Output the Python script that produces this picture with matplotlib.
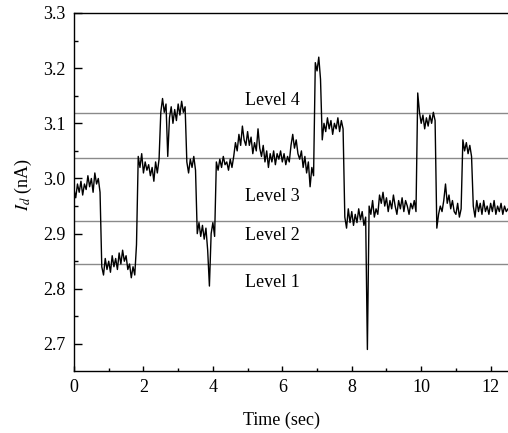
import numpy as np
import matplotlib
matplotlib.use("Agg")
import matplotlib.pyplot as plt
from matplotlib.ticker import MultipleLocator

t_step = 0.05
current = [
    # 0.00 - 0.95
    2.98, 2.965, 2.99, 2.975, 2.995, 2.97, 2.99, 2.98, 3.005, 2.985,
    3.00, 2.975, 3.01, 2.99, 3.00, 2.975, 2.84, 2.825, 2.855, 2.835,
    # 1.00 - 1.95
    2.85, 2.83, 2.86, 2.84, 2.855, 2.835, 2.865, 2.845, 2.87, 2.85,
    2.86, 2.835, 2.845, 2.82, 2.84, 2.825, 2.88, 3.04, 3.02, 3.045,
    # 2.00 - 2.95
    3.01, 3.03, 3.015, 3.025, 3.005, 3.02, 2.995, 3.03, 3.01, 3.035,
    3.12, 3.145, 3.12, 3.135, 3.04, 3.11, 3.13, 3.10, 3.125, 3.105,
    # 3.00 - 3.95
    3.135, 3.115, 3.14, 3.12, 3.13, 3.03, 3.01, 3.035, 3.02, 3.04,
    3.015, 2.90, 2.92, 2.895, 2.915, 2.89, 2.91, 2.87, 2.805, 2.90,
    # 4.00 - 4.95
    2.92, 2.895, 3.03, 3.015, 3.035, 3.02, 3.04, 3.025, 3.03, 3.015,
    3.035, 3.02, 3.04, 3.065, 3.05, 3.08, 3.06, 3.095, 3.07, 3.06,
    # 5.00 - 5.95
    3.085, 3.06, 3.075, 3.045, 3.065, 3.05, 3.09, 3.055, 3.04, 3.06,
    3.03, 3.05, 3.02, 3.045, 3.03, 3.05, 3.025, 3.045, 3.035, 3.05,
    # 6.00 - 6.95
    3.03, 3.045, 3.025, 3.04, 3.03, 3.06, 3.08, 3.055, 3.07, 3.045,
    3.035, 3.05, 3.02, 3.04, 3.01, 3.03, 2.985, 3.02, 3.005, 3.21,
    # 7.00 - 7.95
    3.195, 3.22, 3.18, 3.07, 3.10, 3.085, 3.11, 3.09, 3.105, 3.08,
    3.10, 3.09, 3.11, 3.085, 3.105, 3.09, 2.93, 2.91, 2.945, 2.92,
    # 8.00 - 8.95
    2.94, 2.915, 2.935, 2.92, 2.945, 2.925, 2.94, 2.915, 2.93, 2.69,
    2.95, 2.935, 2.96, 2.93, 2.945, 2.935, 2.97, 2.955, 2.975, 2.95,
    # 9.00 - 9.95
    2.965, 2.94, 2.96, 2.945, 2.97, 2.95, 2.935, 2.96, 2.945, 2.965,
    2.94, 2.96, 2.95, 2.935, 2.955, 2.945, 2.96, 2.94, 3.155, 3.12,
    # 10.00 - 10.95
    3.10, 3.115, 3.09, 3.11, 3.095, 3.115, 3.10, 3.12, 3.105, 2.91,
    2.935, 2.95, 2.94, 2.96, 2.99, 2.955, 2.97, 2.945, 2.96, 2.94,
    # 11.00 - 11.95
    2.935, 2.955, 2.93, 2.945, 3.07, 3.05, 3.065, 3.045, 3.06, 3.04,
    2.95, 2.93, 2.96, 2.94, 2.955, 2.935, 2.96, 2.94, 2.95, 2.935,
    # 12.00 - 12.50
    2.955, 2.94, 2.96, 2.935, 2.95, 2.94, 2.955, 2.935, 2.95, 2.94,
    2.945,
]
time = np.arange(len(current)) * t_step

level_names = ["Level 1", "Level 2", "Level 3", "Level 4"]
level_values = [2.8456, 2.9235, 3.038, 3.119]
label_y = [2.812, 2.897, 2.968, 3.142]
label_x = 4.92

plt.rcParams['font.family'] = ['Liberation Serif', 'DejaVu Serif']
plt.rcParams['mathtext.fontset'] = 'stix'

fig = plt.figure(figsize=(5.08, 4.33), dpi=100)
ax = fig.add_axes([74/508, 1 - 371/433, 1 - 74/508, (371 - 13)/433])

for lv in level_values:
    ax.axhline(lv, color='#8a8a8a', lw=1.0, zorder=1)

ax.plot(time, current, color='black', lw=1.0, zorder=2)

for name, x, y in zip(level_names, [label_x]*4, label_y):
    ax.text(x, y, name, fontsize=13, va='center', ha='left')

ax.set_xlim(0, 12.5)
ax.set_ylim(2.651, 3.3)
ax.xaxis.set_major_locator(MultipleLocator(2))
ax.xaxis.set_minor_locator(MultipleLocator(1))
ax.yaxis.set_major_locator(MultipleLocator(0.1))
ax.yaxis.set_minor_locator(MultipleLocator(0.05))
ax.yaxis.set_major_formatter(matplotlib.ticker.FormatStrFormatter('%.1f'))

ax.tick_params(axis='both', which='both', direction='in', labelsize=13,
               top=False, right=False, width=1.0)
ax.tick_params(axis='y', which='major', length=5.5, pad=6)
ax.tick_params(axis='y', which='minor', length=3)
ax.tick_params(axis='x', which='major', length=3.6, pad=6)
ax.tick_params(axis='x', which='minor', length=2.2)

ax.spines['right'].set_visible(False)
for s in ['left', 'bottom', 'top']:
    ax.spines[s].set_linewidth(1.0)

ax.set_xlabel('Time (sec)', fontsize=13)
ax.xaxis.set_label_coords(0.479, -0.115)
ax.set_ylabel(r'$I_d$ (nA)', fontsize=13)
ax.yaxis.set_label_coords(-0.092, 0.52)

fig.savefig('out.png', dpi=100)
